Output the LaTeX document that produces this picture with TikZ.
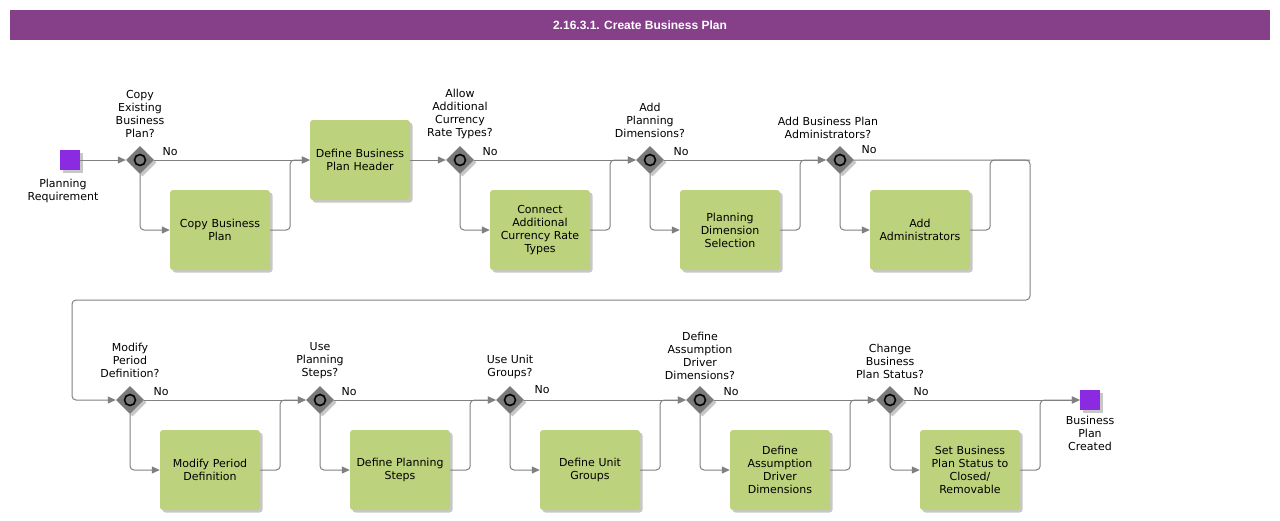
\documentclass[tikz,border=0pt]{standalone}
\usepackage{fontspec}
\setmainfont{DejaVu Sans}
\newfontfamily\titlefont{Liberation Sans}
\usetikzlibrary{shadows,arrows.meta,shapes.geometric}
\definecolor{titlepurple}{RGB}{134,64,138}
\definecolor{evpurple}{RGB}{138,43,226}
\definecolor{taskgreen}{RGB}{189,210,124}
\definecolor{gwgray}{RGB}{122,122,122}
\definecolor{linegray}{RGB}{128,128,128}
\begin{document}
\begin{tikzpicture}[x=1pt,y=-1pt,
  every node/.style={font=\fontsize{11}{13}\selectfont, inner sep=0pt},
  shad/.style={drop shadow={shadow xshift=2.5pt, shadow yshift=-2.5pt, fill=black, opacity=0.22}},
  task/.style={rectangle, rounded corners=3pt, fill=taskgreen, minimum width=100pt, minimum height=80pt, align=center, text width=98pt, shad},
  gw/.style={diamond, fill=gwgray, minimum width=28pt, minimum height=28pt, shad},
  ev/.style={rectangle, fill=evpurple, minimum width=20pt, minimum height=20pt, shad},
  lbl/.style={align=center},
  flow/.style={draw=linegray, line width=1pt, rounded corners=4pt, -{Triangle[length=8pt,width=7pt]}},
  seg/.style={draw=linegray, line width=1pt, rounded corners=4pt},
  ring/.style={draw=black, line width=1.6pt}
]
\useasboundingbox (0,0) rectangle (1280,520);
\fill[titlepurple] (10,10) rectangle (1270,40);
\node[text=white, font=\titlefont\bfseries\fontsize{12}{13}\selectfont] (title) at (640,25) {2.16.3.1. Create Business Plan};

% row 1
\node[ev] (start) at (70,160) {};
\node[lbl] (startl) at (63,191) {Planning\\Requirement};

\node[gw] (g1) at (140,160) {};
\draw[ring] (g1) circle (5.5);
\node[lbl] (g1l) at (140,114) {Copy\\Existing\\Business\\Plan?};
\node (g1n) at (170,152) {No};
\node[task] (b1) at (220,230) {Copy Business\\Plan};
\node[task] (h1) at (360,160) {Define Business\\Plan Header};

\node[gw] (g2) at (460,160) {};
\draw[ring] (g2) circle (5.5);
\node[lbl] (g2l) at (460,114) {Allow\\Additional\\Currency\\Rate Types?};
\node (g2n) at (490,152) {No};
\node[task] (b2) at (540,230) {Connect\\Additional\\Currency Rate\\Types};

\node[gw] (g3) at (650,160) {};
\draw[ring] (g3) circle (5.5);
\node[lbl] (g3l) at (650,120.5) {Add\\Planning\\Dimensions?};
\node (g3n) at (681,152) {No};
\node[task] (b3) at (730,230) {Planning\\Dimension\\Selection};

\node[gw] (g4) at (840,160) {};
\draw[ring] (g4) circle (5.5);
\node[lbl] (g4l) at (828,128) {Add Business Plan\\Administrators?};
\node (g4n) at (869,150) {No};
\node[task] (b4) at (920,230) {Add\\Administrators};

\coordinate (c1) at (1030,160);
\coordinate (c2) at (1030,300);
\coordinate (c3) at (72,300);
\coordinate (c4) at (72,400);

% row 2
\node[gw] (g5) at (130,400) {};
\draw[ring] (g5) circle (5.5);
\node[lbl] (g5l) at (130,360.5) {Modify\\Period\\Definition?};
\node (g5n) at (161,392) {No};
\node[task] (b5) at (210,470) {Modify Period\\Definition};

\node[gw] (g6) at (320,400) {};
\draw[ring] (g6) circle (5.5);
\node[lbl] (g6l) at (320,360.5) {Use\\Planning\\Steps?};
\node (g6n) at (349,392) {No};
\node[task] (b6) at (400,470) {Define Planning\\Steps};

\node[gw] (g7) at (510,400) {};
\draw[ring] (g7) circle (5.5);
\node[lbl] (g7l) at (510,367) {Use Unit\\Groups?};
\node (g7n) at (542,390) {No};
\node[task] (b7) at (590,470) {Define Unit\\Groups};

\node[gw] (g8) at (700,400) {};
\draw[ring] (g8) circle (5.5);
\node[lbl] (g8l) at (700,356) {Define\\Assumption\\Driver\\Dimensions?};
\node (g8n) at (731,392) {No};
\node[task] (b8) at (780,470) {Define\\Assumption\\Driver\\Dimensions};

\node[gw] (g9) at (890,400) {};
\draw[ring] (g9) circle (5.5);
\node[lbl] (g9l) at (890,361.5) {Change\\Business\\Plan Status?};
\node (g9n) at (921,392) {No};
\node[task] (b9) at (970,470) {Set Business\\Plan Status to\\Closed/\\Removable};

\node[ev] (end) at (1090,400) {};
\node[lbl] (endl) at (1090,433) {Business\\Plan\\Created};

% connectors row 1
\draw[flow] (start) -- (g1);
\draw[flow] (g1) -- (h1);
\draw[flow] (g1.south) |- (b1.west);
\draw[flow] (b1.east) -- ++(20,0) |- (h1.west);
\draw[flow] (h1) -- (g2);
\draw[flow] (g2) -- (g3);
\draw[flow] (g2.south) |- (b2.west);
\draw[flow] (b2.east) -- ++(20,0) |- (g3.west);
\draw[flow] (g3) -- (g4);
\draw[flow] (g3.south) |- (b3.west);
\draw[flow] (b3.east) -- ++(20,0) |- (g4.west);
\draw[flow] (g4.south) |- (b4.west);
\draw[seg] (b4.east) -- ++(20,0) |- (c1);
\draw[flow] (g4.east) -- (c1) -- (c2) -- (c3) -- (c4) -- (g5.west);

% connectors row 2
\draw[flow] (g5) -- (g6);
\draw[flow] (g5.south) |- (b5.west);
\draw[flow] (b5.east) -- ++(20,0) |- (g6.west);
\draw[flow] (g6) -- (g7);
\draw[flow] (g6.south) |- (b6.west);
\draw[flow] (b6.east) -- ++(20,0) |- (g7.west);
\draw[flow] (g7) -- (g8);
\draw[flow] (g7.south) |- (b7.west);
\draw[flow] (b7.east) -- ++(20,0) |- (g8.west);
\draw[flow] (g8) -- (g9);
\draw[flow] (g8.south) |- (b8.west);
\draw[flow] (b8.east) -- ++(20,0) |- (g9.west);
\draw[flow] (g9) -- (end);
\draw[flow] (g9.south) |- (b9.west);
\draw[flow] (b9.east) -- ++(20,0) |- (end.west);
\end{tikzpicture}
\end{document}
